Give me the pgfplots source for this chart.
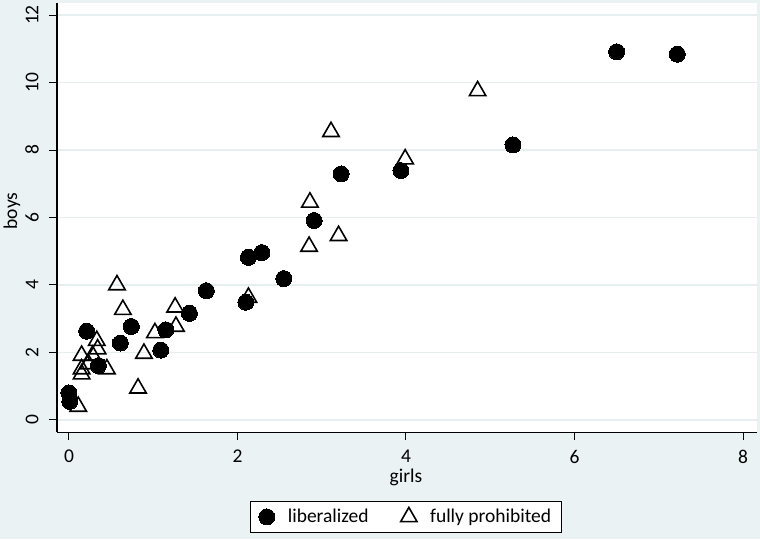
\documentclass[border=0pt]{standalone}
\usepackage{fontspec}
\setmainfont{Carlito}
\usepackage{pgfplots}
\usepackage{pgfplotstable}
\pgfplotsset{compat=1.18}
\definecolor{bg}{HTML}{EAF2F3}
\definecolor{gridc}{HTML}{E6EEF0}
\pgfplotstableread{
x y
0.00 0.80
0.01 0.55
0.21 2.63
0.35 1.61
0.61 2.28
0.74 2.77
1.09 2.07
1.15 2.67
1.43 3.16
1.63 3.83
2.10 3.49
2.13 4.82
2.29 4.96
2.55 4.19
2.91 5.91
3.23 7.29
3.94 7.39
5.27 8.15
6.50 10.91
7.22 10.84
}\liberalized
\pgfplotstableread{
x y
0.11 0.40
0.15 1.36
0.15 1.51
0.15 1.91
0.23 1.66
0.28 1.91
0.34 2.10
0.33 2.35
0.45 1.51
0.57 4.00
0.64 3.27
0.82 0.94
0.89 1.97
1.02 2.58
1.26 3.34
1.27 2.77
2.13 3.63
2.85 5.14
2.86 6.45
3.11 8.54
3.20 5.46
3.99 7.73
4.85 9.75
}\prohibited
\begin{document}
\begin{tikzpicture}[x=1pt,y=1pt]
\fill[bg] (0,0) rectangle (760,539);
\useasboundingbox (0,0) rectangle (760,539);
\begin{axis}[
  at={(57pt,107pt)}, anchor=south west, scale only axis,
  width=700pt, height=429pt,
  xmin=-0.142, xmax=8.166, ymin=-0.356, ymax=12.356,
  axis x line*=bottom, axis y line*=left,
  axis line style={-, black, line width=1pt},
  axis background/.style={fill=white},
  xtick={0,2,4,6,8}, ytick={0,2,4,6,8,10,12},
  tick align=outside, major tick length=8pt,
  tick style={black, line width=1pt},
  ymajorgrids, grid style={gridc, line width=1.5pt},
  font=\fontsize{19.5}{23}\selectfont,
  /pgf/number format/assume math mode=true,
  yticklabel style={xshift=-17pt, rotate=90, anchor=center, inner sep=0pt},
  xticklabel style={inner sep=0pt, yshift=-10pt},
  xlabel={girls}, ylabel={boys},
  xlabel style={at={(axis description cs:0.4986,-0.105)}, anchor=center},
  ylabel style={at={(axis description cs:-0.0643,0.515)}, anchor=center},
  legend style={at={(axis description cs:0.4986,-0.198)}, anchor=center,
    legend columns=2, draw=black, line width=1pt, fill=white,
    inner xsep=8pt, inner ysep=6pt,
    /tikz/every odd column/.append style={column sep=11pt},
    /tikz/every even column/.append style={column sep=30pt},
    font=\fontsize{19.5}{23}\selectfont},
  legend cell align=left,
]
\addplot[only marks, mark=*, mark size=8pt, mark options={fill=black, draw=black, line width=0pt}] table {\liberalized};
\addlegendentry{liberalized}
\addplot[only marks, mark=triangle, mark size=9.5pt, mark options={draw=black, line width=1.6pt, fill=none}] table {\prohibited};
\addlegendentry{fully prohibited}
\end{axis}
\end{tikzpicture}
\end{document}
